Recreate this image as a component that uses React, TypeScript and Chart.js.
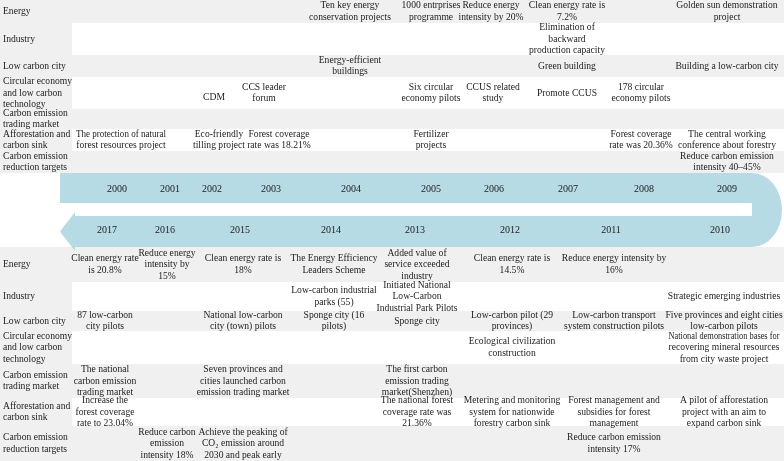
import React, { useEffect, useRef } from "react";
import { Chart, registerables } from "chart.js";

Chart.register(...registerables);

// ---------- DATA ----------
const categories: string[] = [
  "Energy",
  "Industry",
  "Low carbon city",
  "Circular economy\nand low carbon\ntechnology",
  "Carbon emission\ntrading market",
  "Afforestation and\ncarbon sink",
  "Carbon emission\nreduction targets",
];

const topYears: number[] = [2000, 2001, 2002, 2003, 2004, 2005, 2006, 2007, 2008, 2009];
const bottomYears: number[] = [2017, 2016, 2015, 2014, 2013, 2012, 2011, 2010];

// [category index, year, text]
const topEvents: [number, number, string][] = [
  [0, 2004, "Ten key energy\nconservation projects"],
  [0, 2005, "1000 entrprises\nprogramme"],
  [0, 2006, "Reduce energy\nintensity by 20%"],
  [0, 2007, "Clean energy rate is\n7.2%"],
  [0, 2009, "Golden sun demonstration\nproject"],
  [1, 2007, "Elimination of\nbackward\nproduction capacity"],
  [2, 2004, "Energy-efficient\nbuildings"],
  [2, 2007, "Green building"],
  [2, 2009, "Building a low-carbon city"],
  [3, 2002, "CDM"],
  [3, 2003, "CCS leader\nforum"],
  [3, 2005, "Six circular\neconomy pilots"],
  [3, 2006, "CCUS related\nstudy"],
  [3, 2007, "Promote CCUS"],
  [3, 2008, "178 circular\neconomy pilots"],
  [5, 2000, "The protection of natural\nforest resources project"],
  [5, 2002, "Eco-friendly\ntilling project"],
  [5, 2003, "Forest coverage\nrate was 18.21%"],
  [5, 2005, "Fertilizer\nprojects"],
  [5, 2008, "Forest coverage\nrate was 20.36%"],
  [5, 2009, "The central working\nconference about forestry"],
  [6, 2009, "Reduce carbon emission\nintensity 40–45%"],
];

const bottomEvents: [number, number, string][] = [
  [0, 2017, "Clean energy rate\nis 20.8%"],
  [0, 2016, "Reduce energy\nintensity by\n15%"],
  [0, 2015, "Clean energy rate is\n18%"],
  [0, 2014, "The Energy Efficiency\nLeaders Scheme"],
  [0, 2013, "Added value of\nservice exceeded\nindustry"],
  [0, 2012, "Clean energy rate is\n14.5%"],
  [0, 2011, "Reduce energy intensity by\n16%"],
  [1, 2014, "Low-carbon industrial\nparks (55)"],
  [1, 2013, "Initiated National\nLow-Carbon\nIndustrial Park Pilots"],
  [1, 2010, "Strategic emerging industries"],
  [2, 2017, "87 low-carbon\ncity pilots"],
  [2, 2015, "National low-carbon\ncity (town) pilots"],
  [2, 2014, "Sponge city (16\npilots)"],
  [2, 2013, "Sponge city"],
  [2, 2012, "Low-carbon pilot (29\nprovinces)"],
  [2, 2011, "Low-carbon transport\nsystem construction pilots"],
  [2, 2010, "Five provinces and eight cities\nlow-carbon pilots"],
  [3, 2012, "Ecological civilization\nconstruction"],
  [3, 2010, "National demonstration bases for\nrecovering mineral resources\nfrom city waste project"],
  [4, 2017, "The national\ncarbon emission\ntrading market"],
  [4, 2015, "Seven provinces and\ncities launched carbon\nemission trading market"],
  [4, 2013, "The first carbon\nemission trading\nmarket(Shenzhen)"],
  [5, 2017, "Increase the\nforest coverage\nrate to 23.04%"],
  [5, 2013, "The national forest\ncoverage rate was\n21.36%"],
  [5, 2012, "Metering and monitoring\nsystem for nationwide\nforestry carbon sink"],
  [5, 2011, "Forest management and\nsubsidies for forest\nmanagement"],
  [5, 2010, "A pilot of afforestation\nproject with an aim to\nexpand carbon sink"],
  [6, 2016, "Reduce carbon\nemission\nintensity 18%"],
  [6, 2015, "Achieve the peaking of\nCO₂ emission around\n2030 and peak early"],
  [6, 2011, "Reduce carbon emission\nintensity 17%"],
];

// ---------- LAYOUT (in scale units) ----------
const W = 784;
const H = 461;
const LABEL_COL = 72;
const LABEL_X = 3;
const topRows: [number, number][] = [
  [0, 23], [23, 55], [55, 77], [77, 109], [109, 129], [129, 151], [151, 173],
];
const bottomRows: [number, number][] = [
  [247, 282], [282, 311], [311, 331], [331, 364], [364, 398], [398, 426], [426, 461],
];
const topYearX: Record<number, number> = {
  2000: 117, 2001: 170, 2002: 212, 2003: 271, 2004: 351, 2005: 431, 2006: 494, 2007: 568, 2008: 644, 2009: 727,
};
const bottomYearX: Record<number, number> = {
  2017: 107, 2016: 165, 2015: 240, 2014: 331, 2013: 415, 2012: 510, 2011: 611, 2010: 720,
};
const topTextX: Record<number, number> = {
  2000: 121, 2001: 170, 2002: 217, 2003: 272, 2004: 350, 2005: 431, 2006: 493, 2007: 567, 2008: 641, 2009: 727,
};
const bottomTextX: Record<number, number> = {
  2017: 105, 2016: 167, 2015: 243, 2014: 334, 2013: 417, 2012: 512, 2011: 614, 2010: 724,
};
// fine position nudges for individual cells: key "section-category-year"
const nudge: Record<string, [number, number]> = {
  "t-3-2002": [-3, 4],
  "t-3-2003": [-8, 0],
  "t-5-2002": [2, 0],
  "t-5-2003": [7, 0],
  "t-0-2006": [-2, 0],
};
const TOP_YEAR_Y = 189;
const BOTTOM_YEAR_Y = 230;
const compressW: Record<string, number> = {
  "The protection of natural\nforest resources project": 90,
  "National demonstration bases for\nrecovering mineral resources\nfrom city waste project": 111,
};

const GRAY = "#f0f0f0";
const BLUE = "#b6dbe5";
const TEXT = "#1c1c1c";
const FONT = '9.6px "Liberation Serif", "Times New Roman", serif';
const YEAR_FONT = '10px "Liberation Serif", "Times New Roman", serif';
const LH = 11.5;

const mid = (r: [number, number]) => (r[0] + r[1]) / 2;

const timelinePlugin = {
  id: "timeline",
  beforeDatasetsDraw(chart: any) {
    const { ctx } = chart;
    const xs = chart.scales.x;
    const ys = chart.scales.y;
    const px = (v: number) => xs.getPixelForValue(v);
    const py = (v: number) => ys.getPixelForValue(v);
    ctx.save();
    ctx.fillStyle = "#ffffff";
    ctx.fillRect(px(0), py(0), px(W) - px(0), py(H) - py(0));
    [topRows, bottomRows].forEach((rows) => {
      rows.forEach((r, i) => {
        ctx.fillStyle = GRAY;
        ctx.fillRect(px(0), py(r[0]), px(W) - px(0), py(r[1]) - py(r[0]));
        if (i % 2 === 1) {
          ctx.fillStyle = "#ffffff";
          ctx.fillRect(px(LABEL_COL), py(r[0]), px(W) - px(LABEL_COL), py(r[1]) - py(r[0]));
        }
      });
    });
    // arrow band
    ctx.fillStyle = BLUE;
    ctx.beginPath();
    ctx.moveTo(px(60), py(173));
    ctx.lineTo(px(752), py(173));
    ctx.ellipse(px(752), py(210), px(782) - px(752), py(247) - py(210), 0, -Math.PI / 2, Math.PI / 2);
    ctx.lineTo(px(75), py(247));
    ctx.lineTo(px(75), py(251));
    ctx.lineTo(px(60), py(231.5));
    ctx.lineTo(px(75), py(212));
    ctx.lineTo(px(75), py(216));
    ctx.lineTo(px(752), py(216));
    ctx.lineTo(px(752), py(203));
    ctx.lineTo(px(60), py(203));
    ctx.closePath();
    ctx.fill();
    ctx.restore();
  },
  afterDatasetsDraw(chart: any) {
    const { ctx } = chart;
    ctx.save();
    ctx.fillStyle = TEXT;
    ctx.textBaseline = "middle";
    chart.data.datasets.forEach((ds: any, di: number) => {
      const meta = chart.getDatasetMeta(di);
      ctx.font = ds.kind === "year" ? YEAR_FONT : FONT;
      ctx.textAlign = ds.kind === "label" ? "left" : "center";
      ds.data.forEach((pt: any, j: number) => {
        const el = meta.data[j];
        if (!el) return;
        const lines = String(pt.text).split("\n");
        const y0 = el.y - ((lines.length - 1) * LH) / 2;
        const mw = compressW[pt.text];
        lines.forEach((ln: string, k: number) => {
          if (mw) ctx.fillText(ln, el.x, y0 + k * LH, mw);
          else ctx.fillText(ln, el.x, y0 + k * LH);
        });
      });
    });
    ctx.restore();
  },
};

export default function App() {
  const ref = useRef<HTMLCanvasElement | null>(null);
  useEffect(() => {
    document.body.style.margin = "0";
    if (!ref.current) return;
    const labelData = [
      ...categories.map((c, i) => ({ x: LABEL_X, y: mid(topRows[i]), text: c })),
      ...categories.map((c, i) => ({ x: LABEL_X, y: mid(bottomRows[i]), text: c })),
    ];
    const yearData = [
      ...topYears.map((yr) => ({ x: topYearX[yr], y: TOP_YEAR_Y, text: String(yr) })),
      ...bottomYears.map((yr) => ({ x: bottomYearX[yr], y: BOTTOM_YEAR_Y, text: String(yr) })),
    ];
    const place = (sec: string, c: number, yr: number, baseX: number, baseY: number, t: string) => {
      const n = nudge[`${sec}-${c}-${yr}`] || [0, 0];
      return { x: baseX + n[0], y: baseY + n[1], text: t };
    };
    const eventData = [
      ...topEvents.map(([c, yr, t]) => place("t", c, yr, topTextX[yr], mid(topRows[c]), t)),
      ...bottomEvents.map(([c, yr, t]) => place("b", c, yr, bottomTextX[yr], mid(bottomRows[c]), t)),
    ];
    const chart = new Chart(ref.current, {
      type: "scatter",
      data: {
        datasets: [
          { label: "labels", kind: "label", data: labelData, pointRadius: 0 } as any,
          { label: "years", kind: "year", data: yearData, pointRadius: 0 } as any,
          { label: "events", kind: "event", data: eventData, pointRadius: 0 } as any,
        ],
      },
      options: {
        responsive: false,
        animation: false,
        events: [],
        layout: { padding: 0 },
        plugins: { legend: { display: false }, tooltip: { enabled: false } },
        scales: {
          x: { type: "linear", min: 0, max: W, display: false },
          y: { type: "linear", min: 0, max: H, reverse: true, display: false },
        },
      },
      plugins: [timelinePlugin],
    });
    return () => chart.destroy();
  }, []);
  return (
    <div style={{ width: W, height: H }}>
      <canvas ref={ref} width={W} height={H} style={{ display: "block" }} />
    </div>
  );
}
